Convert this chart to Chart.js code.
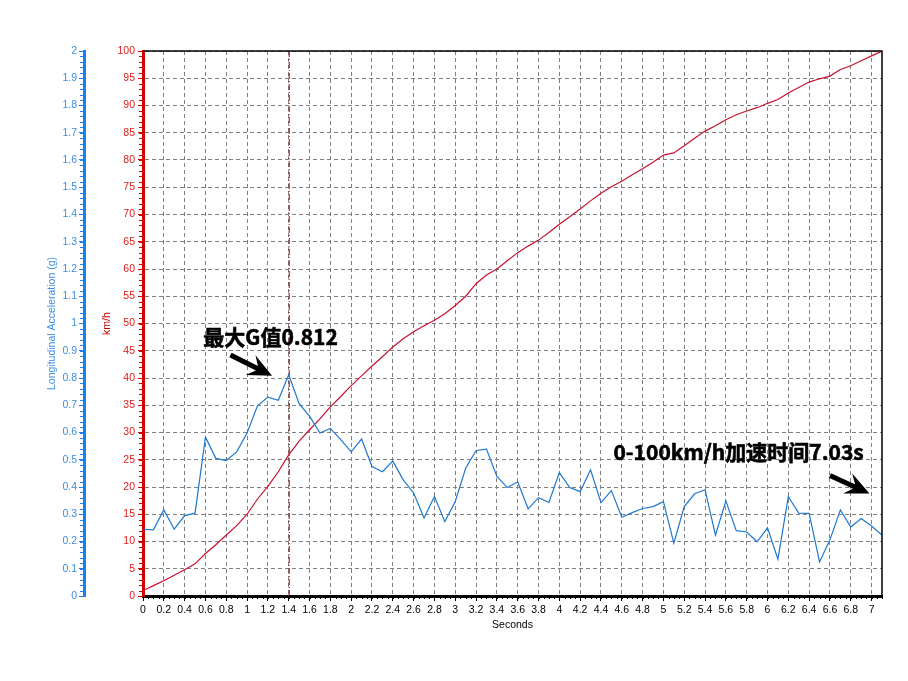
<!DOCTYPE html>
<html>
<head>
<meta charset="utf-8">
<script src="https://cdn.jsdelivr.net/npm/chart.js@4.4.1/dist/chart.umd.min.js"></script>
<style>
  html, body { margin: 0; padding: 0; background: #fff; }
</style>
</head>
<body>
<canvas id="accelChart" width="908" height="681"></canvas>
<script>
// time samples (s)
var timeSec = [0, 0.1, 0.2, 0.3, 0.4, 0.5, 0.6, 0.7, 0.8, 0.9,
    1, 1.1, 1.2, 1.3, 1.4, 1.5, 1.6, 1.7, 1.8, 1.9,
    2, 2.1, 2.2, 2.3, 2.4, 2.5, 2.6, 2.7, 2.8, 2.9,
    3, 3.1, 3.2, 3.3, 3.4, 3.5, 3.6, 3.7, 3.8, 3.9,
    4, 4.1, 4.2, 4.3, 4.4, 4.5, 4.6, 4.7, 4.8, 4.9,
    5, 5.1, 5.2, 5.3, 5.4, 5.5, 5.6, 5.7, 5.8, 5.9,
    6, 6.1, 6.2, 6.3, 6.4, 6.5, 6.6, 6.7, 6.8, 6.9,
    7, 7.1];

// speed (km/h)
var speedKmh = [1.0, 1.9, 2.8, 3.8, 4.8, 5.9, 7.8, 9.4, 11.2, 12.9,
    15.0, 17.8, 20.1, 22.8, 25.9, 28.4, 30.5, 32.5, 34.7, 36.6,
    38.6, 40.4, 42.2, 43.9, 45.7, 47.2, 48.5, 49.6, 50.6, 51.8,
    53.3, 55.0, 57.3, 58.9, 60.0, 61.5, 63.0, 64.2, 65.3, 66.7,
    68.2, 69.6, 71.0, 72.5, 73.9, 75.1, 76.1, 77.3, 78.4, 79.6,
    80.9, 81.3, 82.6, 84.0, 85.3, 86.3, 87.4, 88.3, 89.0, 89.6,
    90.4, 91.1, 92.3, 93.3, 94.3, 94.9, 95.4, 96.6, 97.3, 98.2,
    99.1, 100];

// longitudinal acceleration (g)
var accelG = [0.245, 0.243, 0.316, 0.245, 0.295, 0.304, 0.583, 0.505, 0.497, 0.529,
    0.598, 0.698, 0.730, 0.718, 0.812, 0.706, 0.660, 0.598, 0.615, 0.574,
    0.529, 0.576, 0.475, 0.456, 0.495, 0.426, 0.378, 0.286, 0.365, 0.273,
    0.347, 0.469, 0.534, 0.539, 0.439, 0.398, 0.419, 0.320, 0.361, 0.343,
    0.453, 0.398, 0.383, 0.463, 0.343, 0.387, 0.289, 0.306, 0.321, 0.328,
    0.346, 0.194, 0.328, 0.375, 0.390, 0.223, 0.349, 0.240, 0.235, 0.199,
    0.250, 0.135, 0.365, 0.304, 0.303, 0.125, 0.206, 0.316, 0.253, 0.284,
    0.257, 0.224];

var peakLabel = '最大G值0.812';
var timeLabel = '0-100km/h加速时间7.03s';

var tickFont = { family: "'Liberation Sans', Arial, sans-serif", size: 10.5 };
var blueText = '#3a8de6';
var redText = '#e01a1a';

function fmt(v) {
    return String(Math.round(v * 100) / 100);
}

function toPoints(ys) {
    return timeSec.map(function (t, i) { return { x: t, y: ys[i] }; });
}

// index of max acceleration, used for the dashed marker
var peakIdx = accelG.indexOf(Math.max.apply(null, accelG));

// minor ticks, frame, marker line and the two callouts
var decorPlugin = {
    id: 'decor',
    beforeDatasetsDraw: function (chart) {
        var ctx = chart.ctx, a = chart.chartArea, xs = chart.scales.x;
        var px = xs.getPixelForValue(timeSec[peakIdx]);
        ctx.save();
        ctx.strokeStyle = '#a00000';
        ctx.lineWidth = 1;
        ctx.setLineDash([6, 2, 1, 2]);
        ctx.beginPath();
        ctx.moveTo(px + 0.5, a.top);
        ctx.lineTo(px + 0.5, a.bottom);
        ctx.stroke();
        ctx.restore();
    },
    afterDraw: function (chart) {
        var ctx = chart.ctx, a = chart.chartArea;
        var xs = chart.scales.x, ys = chart.scales.y, gs = chart.scales.yG;
        ctx.save();

        // minor ticks
        function minorX(step, len, color) {
            ctx.strokeStyle = color; ctx.lineWidth = 1;
            ctx.beginPath();
            for (var v = xs.min; v <= xs.max + 1e-9; v += step) {
                var p = Math.round(xs.getPixelForValue(v)) + 0.5;
                ctx.moveTo(p, a.bottom); ctx.lineTo(p, a.bottom + len);
            }
            ctx.stroke();
        }
        function minorY(scale, step, len, color, edge) {
            ctx.strokeStyle = color; ctx.lineWidth = 1;
            ctx.beginPath();
            for (var v = scale.min; v <= scale.max + 1e-9; v += step) {
                var p = Math.round(scale.getPixelForValue(v)) + 0.5;
                ctx.moveTo(edge, p); ctx.lineTo(edge - len, p);
            }
            ctx.stroke();
        }
        minorX(0.05, 3, '#000');
        minorY(ys, 1, 3, '#d00000', ys.right - 1);
        minorY(gs, 0.02, 3, '#1a7fe6', gs.right - 1);

        // frame top/right
        ctx.strokeStyle = '#000';
        ctx.lineWidth = 1.5;
        ctx.beginPath();
        ctx.moveTo(a.left, a.top);
        ctx.lineTo(a.right, a.top);
        ctx.lineTo(a.right, a.bottom);
        ctx.stroke();

        // callouts
        function arrow(t1, v1, t2, v2) {
            var x1 = xs.getPixelForValue(t1), y1 = ys.getPixelForValue(v1);
            var x2 = xs.getPixelForValue(t2), y2 = ys.getPixelForValue(v2);
            var ang = Math.atan2(y2 - y1, x2 - x1);
            var c = Math.cos(ang), s = Math.sin(ang);
            var hl = 24, hw = 11, notch = 15;
            var bx = x2 - c * hl, by = y2 - s * hl;
            var nx = x2 - c * notch, ny = y2 - s * notch;
            ctx.strokeStyle = '#000'; ctx.fillStyle = '#000';
            ctx.lineWidth = 5; ctx.lineCap = 'butt';
            ctx.beginPath(); ctx.moveTo(x1, y1); ctx.lineTo(nx + c * 2, ny + s * 2); ctx.stroke();
            ctx.beginPath();
            ctx.moveTo(x2, y2);
            ctx.lineTo(bx + s * hw, by - c * hw);
            ctx.lineTo(nx, ny);
            ctx.lineTo(bx - s * hw, by + c * hw);
            ctx.closePath(); ctx.fill();
        }
        ctx.font = "bold 21px 'Noto Sans CJK SC', sans-serif";
        ctx.fillStyle = '#000';
        ctx.strokeStyle = '#000';
        ctx.lineWidth = 0.6;
        ctx.textBaseline = 'middle';
        ctx.textAlign = 'left';
        var p1x = xs.getPixelForValue(0.58), p1y = ys.getPixelForValue(47.6);
        var p2x = xs.getPixelForValue(4.52), p2y = ys.getPixelForValue(26.5);
        ctx.fillText(peakLabel, p1x, p1y);
        ctx.strokeText(peakLabel, p1x, p1y);
        ctx.fillText(timeLabel, p2x, p2y);
        ctx.strokeText(timeLabel, p2x, p2y);
        arrow(0.84, 44.2, 1.24, 40.4);
        arrow(6.6, 22.1, 6.98, 18.8);
        ctx.restore();
    }
};

var ctx = document.getElementById('accelChart').getContext('2d');
var accelChart = new Chart(ctx, {
    type: 'line',
    data: {
        datasets: [
            {
                label: 'Longitudinal Acceleration (g)',
                data: toPoints(accelG),
                yAxisID: 'yG',
                borderColor: '#1f78d0',
                borderWidth: 1.2,
                pointRadius: 0,
                tension: 0
            },
            {
                label: 'km/h',
                data: toPoints(speedKmh),
                yAxisID: 'y',
                borderColor: '#c8102e',
                borderWidth: 1.2,
                pointRadius: 0,
                tension: 0
            }
        ]
    },
    options: {
        responsive: false,
        devicePixelRatio: 1,
        animation: false,
        layout: { padding: { top: 51, right: 26, left: 0, bottom: 0 } },
        plugins: {
            legend: { display: false },
            tooltip: { enabled: false }
        },
        scales: {
            x: {
                type: 'linear',
                min: 0,
                max: 7.1,
                afterFit: function (s) { s.height = 85; },
                ticks: {
                    stepSize: 0.2,
                    includeBounds: false,
                    autoSkip: false,
                    maxRotation: 0,
                    color: '#000',
                    font: tickFont,
                    padding: 3,
                    callback: function (v) { return fmt(v); }
                },
                grid: {
                    color: '#808080',
                    lineWidth: 1,
                    tickColor: '#000',
                    tickLength: 5
                },
                border: { color: '#000', width: 3, dash: [4, 3] },
                title: {
                    display: true,
                    text: 'Seconds',
                    color: '#000',
                    font: tickFont,
                    padding: { top: 0, bottom: 50 }
                }
            },
            y: {
                position: 'left',
                weight: 0,
                min: 0,
                max: 100,
                afterFit: function (s) { s.width = 59; },
                ticks: {
                    stepSize: 5,
                    color: redText,
                    font: tickFont,
                    padding: 3
                },
                grid: {
                    color: '#808080',
                    lineWidth: 1,
                    tickColor: '#d00000',
                    tickLength: 5
                },
                border: { color: '#d00000', width: 3, dash: [4, 3] },
                title: {
                    display: true,
                    text: 'km/h',
                    color: '#c80000',
                    font: tickFont,
                    padding: { top: 17, bottom: 0 }
                }
            },
            yG: {
                position: 'left',
                weight: 1,
                min: 0,
                max: 2,
                afterFit: function (s) { s.width = 84; },
                ticks: {
                    stepSize: 0.1,
                    color: blueText,
                    font: tickFont,
                    padding: 2,
                    callback: function (v) { return fmt(v); }
                },
                grid: {
                    drawOnChartArea: false,
                    tickColor: '#1a7fe6',
                    tickLength: 5
                },
                border: { color: '#1a7fe6', width: 3 },
                title: {
                    display: true,
                    text: 'Longitudinal Acceleration (g)',
                    color: blueText,
                    font: tickFont,
                    padding: { top: 46, bottom: 0 }
                }
            }
        }
    },
    plugins: [decorPlugin]
});
</script>
</body>
</html>
